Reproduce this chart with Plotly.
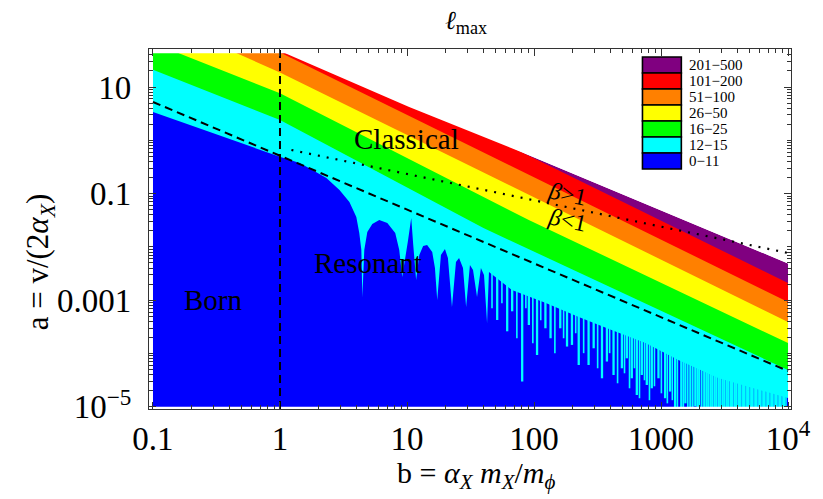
import numpy as np
import plotly.graph_objects as go

# ---------------- data ----------------
B_MIN, B_MAX = 0.1, 1e4          # data region in b
A_MIN, A_MAX = 1e-5, 43.0        # data region in a

band_labels = ["201\u2212500", "101\u2212200", "51\u2212100", "26\u221250", "16\u221225", "12\u221215", "0\u221211"]
band_colors = ["#800080", "#FF0000", "#FF8000", "#FFFF00", "#00FF00", "#00FFFF", "#0000FF"]

# upper edge of computed region (white above)
top_b = [1.1, 10.4, 80, 1e4]
top_a = [43, 4.2, 0.60, 0.0049]
# l = 200 (purple/red)
pr_b = [1.0, 80, 1e4]
pr_a = [100, 0.60, 0.0021]
# l = 100 (red/orange)
ro_b = [0.1, 1.05, 1e4]
ro_a = [420, 42, 0.000925]
# l = 50 (orange/yellow)
oy_b = [0.457, 1.0, 1e4]
oy_a = [43, 18.7, 0.00039]
# l = 25 (yellow/green)
yg_b = [0.16, 1.0, 91, 1e4]
yg_a = [43, 7.6, 0.032, 0.000157]
# l = 15 (green/cyan)
gc_b = [0.1, 1.0, 40, 1e4]
gc_a = [21, 2.4, 0.0226, 4.9e-5]
# l = 11 (cyan/blue) edge incl. resonances and upper envelope of the comb
blue_b = [0.1, 1.01, 1.43, 1.80, 2.32, 2.94, 3.52, 3.99, 4.21, 4.37, 4.45, 4.61, 4.87, 5.33,
          6.05, 7.0, 8.08, 8.69, 9.17, 10.2, 10.8, 11.2, 11.8, 12.5, 13.4, 14.4, 15.8, 16.6,
          17.3, 18.5, 19.9, 21.0, 21.8, 22.6, 24.3, 25.7, 27.6, 29.2, 31.3, 33.1, 35.6, 38.2,
          40.4, 42.7, 44.2, 67, 124, 225, 408, 755, 1371, 2825, 1e4]
blue_a = [3.4, 0.486, 0.375, 0.277, 0.196, 0.117, 0.0695, 0.0364, 0.0182, 0.00875, 0.00115,
          0.00875, 0.019, 0.0269, 0.032, 0.028, 0.0182, 0.00875, 0.00272, 0.0135, 0.0348,
          0.0109, 0.00239, 0.00705, 0.0104, 0.0109, 0.0080, 0.0040, 0.00101, 0.00705, 0.0091,
          0.0062, 0.00239, 0.000745, 0.0052, 0.0062, 0.0040, 0.000745, 0.00457, 0.0037,
          0.00115, 0.0040, 0.00297, 0.000373, 0.00338, 0.00155, 0.000885, 0.000484, 0.000276,
          0.000157, 7.55e-5, 3.47e-5, 1.46e-5]
# narrow resonance spikes of the 12-15 region reaching into 0-11 (position, lowest a)
spike_b = [51.3, 61.5, 67.3, 80.7, 91.1, 105.7, 123, 135, 161, 182, 199, 225, 269, 295, 343,
           375, 423, 492, 538, 589, 645, 706, 773, 846, 955, 1077, 1179, 1291, 1445, 1556,
           1703, 1863, 2000, 2191, 2355, 2531, 2722, 2925, 3146, 3381, 3633, 3908, 4200,
           4516, 4853, 5216, 5608, 6027, 6480, 6964, 7484, 8045, 8647, 9300]
spike_a = [0.000608, 0.000373, 0.000885, 4.26e-5, 0.00049, 0.000134, 0.000425, 0.000276,
           0.000425, 0.000193, 0.000207, 8.7e-5, 8.7e-5, 0.000179, 4.9e-5, 0.000101, 5.65e-5,
           7.55e-5, 0.000116, 4.9e-5, 2.38e-5, 5.65e-5, 3.67e-5, 3.18e-5, 4.9e-5, 2.07e-5,
           2.76e-5, 1.34e-5, 1e-5, 1.66e-5, 1e-5, 1.46e-5, 1e-5, 1e-5, 1.34e-5, 1e-5, 1.24e-5,
           1e-5, 1e-5, 1.2e-5, 1e-5, 1e-5, 1.1e-5, 1e-5, 1e-5, 1e-5, 1e-5, 1e-5, 1e-5, 1e-5,
           1e-5, 1e-5, 1e-5, 1e-5]
# finer spikes in between
spike2_b = [46.7, 55.9, 73.3, 86.3, 97.9, 113, 146, 171, 213, 246, 317, 394, 455, 516, 565,
            618, 677, 741, 811, 888, 1007, 1122, 1228, 1346, 1500, 1626, 1780, 1930, 2094,
            2270, 2442, 2625, 2825, 3036, 3262, 3507, 3770, 4053, 4356, 4681, 5032, 5408,
            5815, 6249, 6716, 7222, 7762, 8342, 8972, 9640]
spike2_a = [0.00101, 0.00125, 0.000276, 0.00101, 0.000222, 0.000601, 0.000145, 0.000276,
            0.000343, 0.000145, 7.55e-5, 0.000145, 3.95e-5, 6.08e-5, 3.18e-5, 7.55e-5, 2.07e-5,
            4.5e-5, 1.9e-5, 3.47e-5, 2.56e-5, 1.66e-5, 1.9e-5, 1.18e-5, 1.34e-5, 1.18e-5,
            1.34e-5, 1e-5, 1.18e-5, 1e-5, 1e-5, 1e-5, 1e-5, 1e-5, 1e-5, 1e-5, 1e-5, 1e-5, 1e-5,
            1e-5, 1e-5, 1e-5, 1e-5, 1e-5, 1e-5, 1e-5, 1e-5, 1e-5, 1e-5, 1e-5]

# reference lines
dash_b = [0.1, 1e4]
dash_a = [5.24, 4.7e-5]
dot_b = [1.23, 1e4]
dot_a = [0.658, 0.0077]
vline_b = 1.0

x_tickvals = [0.1, 1, 10, 100, 1000, 1e4]
x_ticktext = ["0.1", "1", "10", "100", "1000", "10<sup>4</sup>"]
y_tickvals = [1e-5, 1e-3, 0.1, 10]
y_ticktext = ["10<sup>\u22125</sup>", "0.001", "0.1", "10"]

# ---------------- figure ----------------
XR = [-1.0314, 4.0235]
YR = [-5.041, 1.713]
FAR_LO_B, FAR_HI_B, FAR_HI_A, FAR_LO_A = 0.01, 1e5, 1e4, 1e-7
SERIF = "Liberation Serif"
OFF = 8                      # page body margin offset
W, H = 823 - OFF, 499 - OFF
PL, PR, PT, PB = 149, 793, 49, 409   # frame in page pixels

fig = go.Figure()


def region_below(bs, as_, color):
    xs = [FAR_LO_B] + list(bs) + [FAR_HI_B, FAR_HI_B, FAR_LO_B]
    ys = [FAR_HI_A] + list(as_) + [as_[-1], FAR_LO_A, FAR_LO_A]
    fig.add_trace(go.Scatter(x=xs, y=ys, mode="lines", fill="toself", fillcolor=color,
                             line=dict(width=0, color=color), hoverinfo="skip", showlegend=False))


for (bs, as_), col in zip([(top_b, top_a), (pr_b, pr_a), (ro_b, ro_a), (oy_b, oy_a),
                           (yg_b, yg_a), (gc_b, gc_a), (blue_b, blue_a)], band_colors):
    region_below(bs, as_, col)

# spikes
lb_edge = np.log10(blue_b)
la_edge = np.log10(blue_a)
for sb, sa, wd in [(spike_b, spike_a, 2.3), (spike2_b, spike2_a, 1.6)]:
    sx, sy = [], []
    for b, a in zip(sb, sa):
        top = 10 ** np.interp(np.log10(b), lb_edge, la_edge) * 1.4
        sx += [b, b, None]
        sy += [top, a * 0.7, None]
    fig.add_trace(go.Scatter(x=sx, y=sy, mode="lines", line=dict(color="#00FFFF", width=wd),
                             hoverinfo="skip", showlegend=False))

# white above the computed region
mx = list(top_b) + [FAR_HI_B, FAR_HI_B, top_b[0]]
my = list(top_a) + [top_a[-1], FAR_HI_A, FAR_HI_A]
fig.add_trace(go.Scatter(x=mx, y=my, mode="lines", fill="toself", fillcolor="white",
                         line=dict(width=0, color="white"), hoverinfo="skip", showlegend=False))
# white margins between frame and data region
for xs, ys in [([FAR_LO_B, FAR_HI_B, FAR_HI_B, FAR_LO_B], [A_MAX, A_MAX, FAR_HI_A, FAR_HI_A]),
               ([FAR_LO_B, FAR_HI_B, FAR_HI_B, FAR_LO_B], [FAR_LO_A, FAR_LO_A, A_MIN, A_MIN]),
               ([FAR_LO_B, B_MIN, B_MIN, FAR_LO_B], [FAR_LO_A, FAR_LO_A, FAR_HI_A, FAR_HI_A]),
               ([B_MAX, FAR_HI_B, FAR_HI_B, B_MAX], [FAR_LO_A, FAR_LO_A, FAR_HI_A, FAR_HI_A])]:
    fig.add_trace(go.Scatter(x=xs, y=ys, mode="lines", fill="toself", fillcolor="white",
                             line=dict(width=0, color="white"), hoverinfo="skip", showlegend=False))

# reference lines
fig.add_trace(go.Scatter(x=dash_b, y=dash_a, mode="lines",
                         line=dict(color="black", width=2, dash="8px,5px"),
                         hoverinfo="skip", showlegend=False))
fig.add_trace(go.Scatter(x=dot_b, y=dot_a, mode="lines",
                         line=dict(color="black", width=2.2, dash="2px,7px"),
                         hoverinfo="skip", showlegend=False))
fig.add_trace(go.Scatter(x=[vline_b, vline_b], y=[10 ** YR[0], 10 ** YR[1]], mode="lines",
                         line=dict(color="black", width=2, dash="8px,5px"),
                         hoverinfo="skip", showlegend=False))

# region labels
for txt, b, a, size, ang in [("Classical", 9.87, 1.06, 29, 0), ("Resonant", 4.96, 0.00499, 29, 0),
                             ("Born", 0.301, 0.00101, 29, 0),
                             ("<i>\u03b2</i>&gt;1", 184, 0.0984, 24, 12),
                             ("<i>\u03b2</i>&lt;1", 184, 0.032, 24, 12)]:
    fig.add_annotation(x=np.log10(b), y=np.log10(a), xref="x", yref="y", text=txt,
                       showarrow=False, textangle=ang, xanchor="center", yanchor="middle",
                       font=dict(family=SERIF, size=size, color="black"))


def px_x(px):
    return (px - PL) / (PR - PL)


def px_y(py):
    return (PB - py) / (PB - PT)


# legend (drawn)
for i, (lab, col) in enumerate(zip(band_labels, band_colors)):
    top = 57 + 16 * i
    fig.add_shape(type="rect", xref="paper", yref="paper", x0=px_x(644), x1=px_x(683),
                  y0=px_y(top + 16), y1=px_y(top), fillcolor=col,
                  line=dict(color="black", width=1.6), layer="above")
    fig.add_annotation(xref="paper", yref="paper", x=px_x(689), y=px_y(top + 8), text=lab,
                       showarrow=False, xanchor="left", yanchor="middle",
                       font=dict(family=SERIF, size=15, color="black"))

# titles
fig.add_annotation(xref="paper", yref="paper", x=px_x(467), y=px_y(22),
                   text="<i>\u2113</i><sub>max</sub>", showarrow=False,
                   xanchor="center", yanchor="middle",
                   font=dict(family=SERIF, size=26, color="black"))
fig.add_annotation(xref="paper", yref="paper", x=px_x(478), y=px_y(475),
                   text="b = <i>\u03b1</i><sub><i>X</i></sub> <i>m</i><sub><i>X</i></sub>/<i>m</i><sub><i>\u03d5</i></sub>",
                   showarrow=False, xanchor="center", yanchor="middle",
                   font=dict(family=SERIF, size=30, color="black"))
fig.add_annotation(xref="paper", yref="paper", x=px_x(40), y=px_y(262),
                   text="a = v/(2<i>\u03b1</i><sub><i>X</i></sub>)", textangle=-90,
                   showarrow=False, xanchor="center", yanchor="middle",
                   font=dict(family=SERIF, size=31, color="black"))

x_minor = [k * 10 ** d for d in range(-1, 4) for k in range(2, 10)]
y_minor = [k * 10 ** d for d in range(-5, 2) for k in range(1, 10)
           if k * 10 ** d not in y_tickvals and k * 10 ** d < 50]

axis_common = dict(showgrid=False, zeroline=False, showline=True, linecolor="#333",
                   linewidth=1.3, mirror="allticks", ticks="inside", ticklen=7,
                   tickwidth=1.2, tickcolor="#333",
                   tickfont=dict(family=SERIF, size=33, color="black"))
fig.update_xaxes(type="log", range=XR, tickmode="array", tickvals=x_tickvals,
                 ticktext=x_ticktext, ticklabelstandoff=0,
                 minor=dict(tickmode="array", tickvals=x_minor, ticks="inside", ticklen=4,
                            tickcolor="#333", tickwidth=1),
                 **axis_common)
fig.update_yaxes(type="log", range=YR, tickmode="array", tickvals=y_tickvals,
                 ticktext=y_ticktext, ticklabelstandoff=10,
                 minor=dict(tickmode="array", tickvals=y_minor, ticks="inside", ticklen=4,
                            tickcolor="#333", tickwidth=1),
                 **axis_common)

fig.update_layout(width=W, height=H,
                  margin=dict(l=PL - OFF, r=W - (PR - OFF), t=PT - OFF, b=H - (PB - OFF)),
                  paper_bgcolor="white", plot_bgcolor="white", showlegend=False)

fig.write_html("out.html")
